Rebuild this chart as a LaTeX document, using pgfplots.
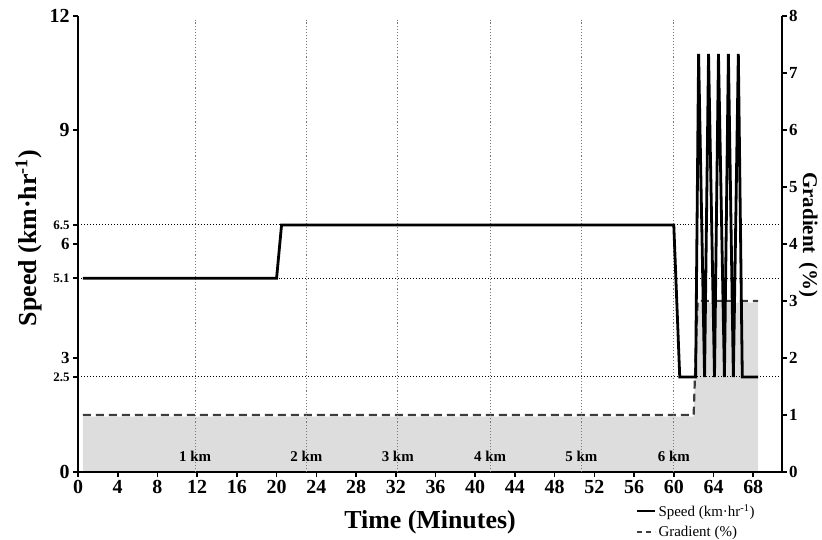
\documentclass[border=0pt]{standalone}
\usepackage{pgfplots}
\pgfplotsset{compat=1.18}
\usepackage{fontspec}
\setmainfont{Liberation Serif}
\definecolor{fillgray}{RGB}{221,221,221}
\definecolor{dashgray}{RGB}{60,60,60}
\definecolor{gridgray}{RGB}{120,120,120}
\begin{document}
\begin{tikzpicture}[x=1bp,y=1bp]
\useasboundingbox (0,0) rectangle (822,540);
\pgfplotsset{
  common/.style={
    scale only axis, width=704bp, height=456bp,
    at={(78bp,68bp)}, anchor=south west,
    xmin=0, xmax=70.9,
    tick align=outside, major tick length=5bp,
    every tick/.style={black, line width=1.6bp},
    axis line style={line width=2.4bp},
    tick label style={font=\bfseries\fontsize{20}{20}\selectfont},
    /pgf/number format/assume math mode=true,
    label style={font=\bfseries\fontsize{26}{26}\selectfont},
  }
}
% Gradient axis (right)
\begin{axis}[common,
  axis x line=none, axis y line*=right,
  ymin=0, ymax=8, ytick={0,1,...,8},
  yticklabel style={font=\bfseries\fontsize{17}{17}\selectfont, xshift=-1.5bp},
  ylabel={Gradient\, (\%)},
  ylabel style={at={(axis description cs:1.037,0.52)}, anchor=center, rotate=180, font=\bfseries\fontsize{21}{21}\selectfont},
]
\addplot[fill=fillgray, draw=none] coordinates {(0.5,0) (0.5,0.97) (62,0.97) (62.4,2.97) (68.5,2.97) (68.5,0)} \closedcycle;
\addplot[dashgray, line width=2.2bp, dash pattern=on 8bp off 5bp] coordinates {(0.5,1) (62,1) (62.4,3) (68.5,3)};
\end{axis}
% Speed axis (left)
\begin{axis}[common,
  axis x line*=bottom, axis y line*=left,
  ymin=0, ymax=12,
  xtick={0,4,...,68},
  ytick={0,2.5,3,5.1,6,6.5,9,12},
  yticklabels={0,{\fontsize{13}{13}\selectfont 2.5},{\fontsize{17}{17}\selectfont 3},{\fontsize{13}{13}\selectfont 5.1},{\fontsize{17}{17}\selectfont 6},{\fontsize{13}{13}\selectfont 6.5},9,12},
  xlabel={Time (Minutes)},
  xlabel style={at={(axis description cs:0.5,-0.11)}, anchor=center},
  ylabel={Speed (km·hr\textsuperscript{-1})},
  ylabel style={at={(axis description cs:-0.07,0.513)}, anchor=center},
  legend style={at={(axis description cs:0.792,-0.066)}, anchor=north west, draw=none, fill=none,
    font=\fontsize{15}{15}\selectfont, row sep=4bp, inner sep=0pt},
  legend cell align=left,
  legend image code/.code={\draw[#1] (0bp,0bp) -- (18bp,0bp);},
]
% grid lines
\foreach \k in {11.8,23.0,32.2,41.5,50.7,60.0}{
  \edef\temp{\noexpand\draw[gridgray, dotted, line width=1.1bp] (axis cs:\k,0) -- (axis cs:\k,11.9);}
  \temp
}
\draw[black, dotted, line width=1bp] (axis cs:0,2.5) -- (axis cs:70.9,2.5);
\draw[black, dotted, line width=1bp] (axis cs:0,5.1) -- (axis cs:70.9,5.1);
\draw[black, dotted, line width=1bp] (axis cs:0,6.5) -- (axis cs:70.9,6.5);
% km labels
\node[font=\bfseries\fontsize{15}{15}\selectfont] at (axis cs:11.8,0.4) {1 km};
\node[font=\bfseries\fontsize{15}{15}\selectfont] at (axis cs:23.0,0.4) {2 km};
\node[font=\bfseries\fontsize{15}{15}\selectfont] at (axis cs:32.2,0.4) {3 km};
\node[font=\bfseries\fontsize{15}{15}\selectfont] at (axis cs:41.5,0.4) {4 km};
\node[font=\bfseries\fontsize{15}{15}\selectfont] at (axis cs:50.7,0.4) {5 km};
\node[font=\bfseries\fontsize{15}{15}\selectfont] at (axis cs:60.0,0.4) {6 km};
\addplot[black, line width=2.8bp] coordinates {
 (0.5,5.1) (20,5.1) (20.5,6.5) (60,6.5) (60.6,2.5) (62.2,2.5)
 (62.5,11) (63.1,2.5) (63.5,11) (64.1,2.5) (64.5,11) (65.1,2.5)
 (65.5,11) (66.0,2.5) (66.5,11) (66.9,2.5) (68.5,2.5)};
\addlegendentry{Speed (km·hr\textsuperscript{-1})}
\addlegendimage{dashgray, line width=2.2bp, dash pattern=on 5bp off 4bp}
\addlegendentry{Gradient (\%)}
\end{axis}
\end{tikzpicture}
\end{document}
